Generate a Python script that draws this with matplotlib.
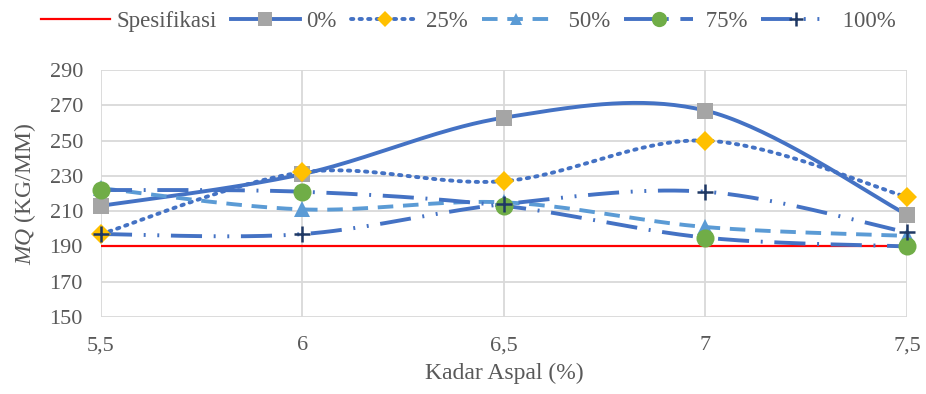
import numpy as np
import matplotlib
matplotlib.use('Agg')
from matplotlib import pyplot as plt

plt.rcParams['font.family'] = ['Liberation Serif', 'DejaVu Serif']
plt.rcParams['mathtext.fontset'] = 'custom'
plt.rcParams['mathtext.rm'] = 'Liberation Serif'
plt.rcParams['mathtext.it'] = 'Liberation Serif:italic'

kadar = [5.5, 6.0, 6.5, 7.0, 7.5]
spesifikasi = [190, 190, 190, 190, 190]
mq_0 = [213, 231, 263, 267, 208]
mq_25 = [197, 232, 227, 250, 218]
mq_50 = [223, 211, 215, 201, 196]
mq_75 = [222, 221, 213, 195, 190]
mq_100 = [197, 197, 214, 221, 198]


def smooth(x, y, n=40):
    # bezier smoothing through the points (catmull-rom control points)
    p = np.column_stack([x, y]).astype(float)
    pts = np.vstack([p[0], p, p[-1]])
    out = []
    t = np.linspace(0, 1, n)[:, None]
    for i in range(1, len(pts) - 2):
        p0, p1, p2, p3 = pts[i - 1], pts[i], pts[i + 1], pts[i + 2]
        c1 = p1 + (p2 - p0) / 6
        c2 = p2 - (p3 - p1) / 6
        seg = ((1 - t) ** 3) * p1 + 3 * ((1 - t) ** 2) * t * c1 + 3 * (1 - t) * t ** 2 * c2 + t ** 3 * p2
        out.append(seg if i == 1 else seg[1:])
    s = np.vstack(out)
    return s[:, 0], s[:, 1]


fig = plt.figure(figsize=(9.26, 3.94), dpi=100)
ax = fig.add_axes([0.109, 0.1954, 0.8705, 0.6269])

line_col = '#4472C4'
series = [
    (mq_0, '0%', dict(color=line_col, ls='-'), dict(marker='s', color='#A5A5A5', ms=12)),
    (mq_25, '25%', dict(color=line_col, ls=(0, (0.6, 1.6)), dash_capstyle='round'), dict(marker='D', color='#FFC000', ms=10)),
    (mq_50, '  50%', dict(color='#5B9BD5', ls=(0, (4, 2.5))), dict(marker='^', color='#5B9BD5', ms=11)),
    (mq_75, ' 75%', dict(color=line_col, ls=(0, (8, 3, 0.5, 3))), dict(marker='o', color='#70AD47', ms=13)),
    (mq_100, ' 100%', dict(color=line_col, ls=(0, (8, 3, 0.5, 3, 0.5, 3))), dict(marker='+', color='#1F3864', ms=12, mew=1.8)),
]

handles = []
h, = ax.plot(kadar, spesifikasi, color='#FF0000', lw=1.6, zorder=3)
handles.append((h, 'Spesifikasi'))
for vals, name, lstyle, mstyle in series:
    sx, sy = smooth(kadar, vals)
    ax.plot(sx, sy, lw=2.8, zorder=3, **lstyle)
    ax.plot(kadar, vals, ls='none', marker=mstyle['marker'], ms=mstyle['ms'],
            color=mstyle['color'], mew=mstyle.get('mew', 0), zorder=4, clip_on=False)
    leg, = ax.plot([], [], lw=2.8, marker=mstyle['marker'], ms=mstyle['ms'] - 2,
                   mfc=mstyle['color'], mec=mstyle['color'], mew=mstyle.get('mew', 0), **lstyle)
    handles.append((leg, name))

ax.set_xlim(5.5, 7.5)
ax.set_ylim(150, 290)
ax.set_xticks([5.5, 6.0, 6.5, 7.0, 7.5])
ax.set_xticklabels(['5,5', '6', '6,5', '7', '7,5'])
ax.set_yticks(range(150, 291, 20))
ax.grid(True, color='#D9D9D9', lw=1.3)
ax.set_axisbelow(True)
for s in ax.spines.values():
    s.set_visible(False)
ax.tick_params(length=0, labelsize=16, colors='#595959')
ax.tick_params(axis='x', pad=14)
ax.tick_params(axis='y', pad=13)

ax.set_xlabel('Kadar Aspal (%)', fontsize=17, color='#595959', labelpad=5)
ax.set_ylabel(r'$\it{MQ}$ (KG/MM)', fontsize=17, color='#595959', labelpad=8)

fig.legend([h for h, _ in handles], [n for _, n in handles], loc='center',
           bbox_to_anchor=(0.506, 0.945), ncol=6, frameon=False, fontsize=16.5,
           handlelength=3.0, columnspacing=0.6, handletextpad=0.3, labelcolor='#595959')

fig.savefig('out.png', dpi=100)
